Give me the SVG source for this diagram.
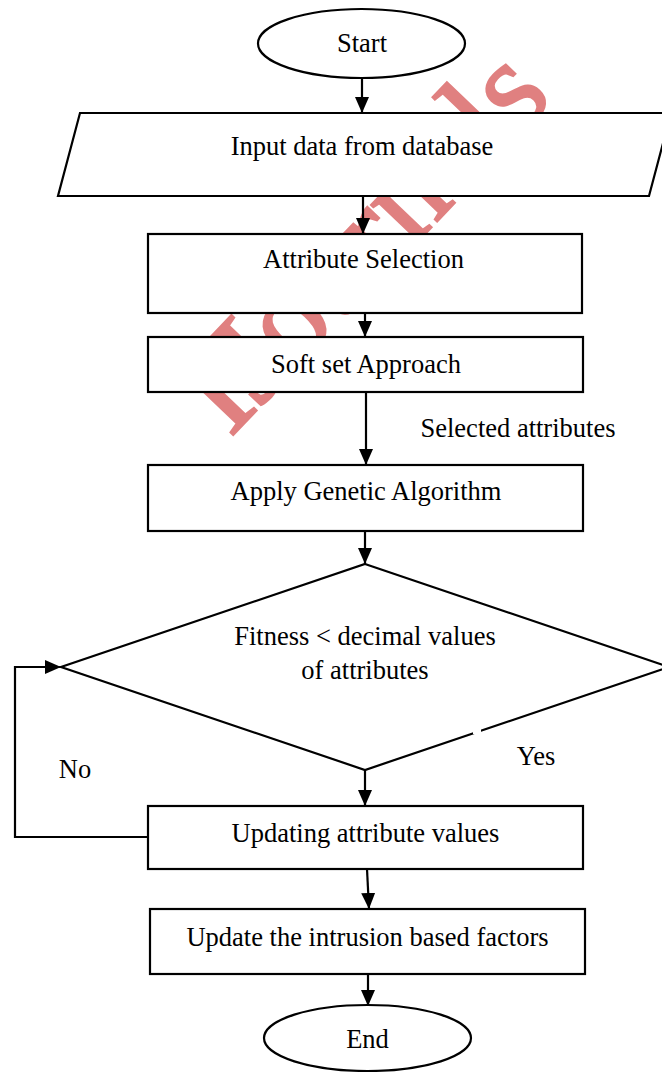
<svg xmlns="http://www.w3.org/2000/svg" width="662" height="1072" viewBox="0 0 662 1072">
<style>
.shape{fill:#fff;stroke:#000;stroke-width:2.2}
.lbl{font-family:"Liberation Serif","Times New Roman",serif;font-size:26.5px;fill:#000;text-anchor:middle}
.edge{fill:none;stroke:#000;stroke-width:2.2}
.wm{font-family:"Liberation Serif","Times New Roman",serif;font-size:128px;fill:#e08080;stroke:#e08080;stroke-width:2.5}
</style>
<defs>
<marker id="ah" markerUnits="userSpaceOnUse" markerWidth="16" markerHeight="14" refX="16" refY="7" orient="auto">
<path d="M0,0 L16,7 L0,14 z" fill="#000"/>
</marker>
</defs>
<rect width="662" height="1072" fill="#fff"/>
<text class="wm" transform="translate(230,438) rotate(-46.3)">IJournals</text>
<g id="start"><ellipse class="shape" cx="361.5" cy="43.5" rx="103.5" ry="34.5"/><text class="lbl" x="362" y="52">Start</text></g>
<g id="input"><polygon class="shape" points="80,113 671,113 649,196 58,196"/><text class="lbl" x="362" y="155">Input data from database</text></g>
<g id="attrsel"><rect class="shape" x="148" y="234" width="434" height="79"/><text class="lbl" x="363.5" y="268">Attribute Selection</text></g>
<g id="softset"><rect class="shape" x="148" y="337" width="435" height="55"/><text class="lbl" x="366" y="373">Soft set Approach</text></g>
<g id="ga"><rect class="shape" x="148" y="465" width="435" height="66"/><text class="lbl" x="366" y="500">Apply Genetic Algorithm</text></g>
<g id="fitness"><polygon class="shape" points="365,564 669,667 365,770 61,667"/><rect x="473" y="729" width="8" height="5" fill="#fff"/><text class="lbl" x="365" y="645">Fitness &lt; decimal values</text><text class="lbl" x="365" y="679">of attributes</text></g>
<g id="updating"><rect class="shape" x="148" y="806" width="435" height="63"/><text class="lbl" x="365.5" y="842">Updating attribute values</text></g>
<g id="update"><rect class="shape" x="150" y="909" width="435" height="65"/><text class="lbl" x="367.5" y="946">Update the intrusion based factors</text></g>
<g id="end"><ellipse class="shape" cx="367.5" cy="1038" rx="103.5" ry="33"/><text class="lbl" x="367.5" y="1048">End</text></g>
<g id="connectors">
<path class="edge" d="M362,78 L362,113" marker-end="url(#ah)"/>
<path class="edge" d="M363,196 L363,234" marker-end="url(#ah)"/>
<path class="edge" d="M365,313 L365,337" marker-end="url(#ah)"/>
<path class="edge" d="M366,392 L366,465" marker-end="url(#ah)"/>
<path class="edge" d="M365,531 L365,564" marker-end="url(#ah)"/>
<path class="edge" d="M365,770 L365,806" marker-end="url(#ah)"/>
<path class="edge" d="M148,837 L15,837 L15,667 L61,667" marker-end="url(#ah)"/>
<path class="edge" d="M367,869 L369,909" marker-end="url(#ah)"/>
<path class="edge" d="M368,974 L368,1006" marker-end="url(#ah)"/>
<text class="lbl" x="518" y="437">Selected attributes</text>
<text class="lbl" x="75" y="778">No</text>
<text class="lbl" x="536" y="765">Yes</text>
</g>
</svg>
